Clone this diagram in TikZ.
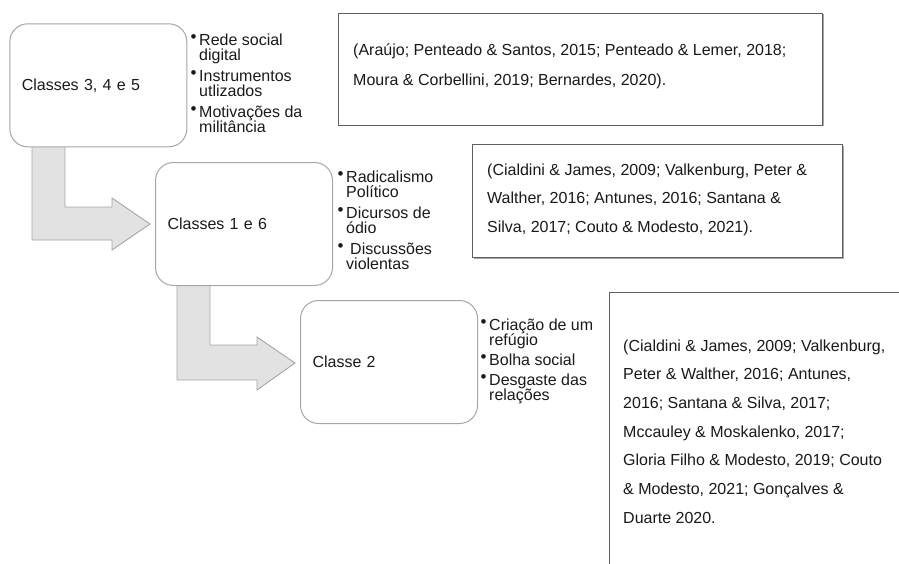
\documentclass[tikz,border=0pt]{standalone}
\usepackage{fontspec}
\setmainfont{Liberation Sans}
\usetikzlibrary{shadows}
\definecolor{boxgray}{HTML}{A6A6A6}
\definecolor{arrowfill}{HTML}{E2E2E2}
\definecolor{refline}{HTML}{5F5F5F}
\definecolor{txt}{HTML}{1A1A1A}
\newcommand{\bul}{\makebox[8.5pt][l]{\raisebox{2.8pt}{\fontsize{17}{17}\selectfont •}}}
\newcommand{\cont}{\hspace*{8.5pt}}
\newcommand{\itemgap}{\vskip6pt}
\begin{document}
\begin{tikzpicture}[x=1pt,y=-1pt,
  classbox/.style={draw=boxgray, line width=1pt, fill=white, rounded corners=18pt,
    anchor=north west, inner xsep=12pt, inner ysep=0pt, align=left,
    minimum width=177pt, minimum height=123pt, text width=153pt,
    font=\fontsize{16}{19}\selectfont, text=txt},
  refbox/.style={draw=refline, line width=1.1pt, fill=white, anchor=north west, inner sep=0pt,
    drop shadow={shadow xshift=1pt, shadow yshift=-1pt, fill=black!35, opacity=1}},
  reftext/.style={anchor=base west, inner sep=0pt, font=\fontsize{16}{28.5}\selectfont, text=txt},
  bullist/.style={anchor=base west, inner sep=0pt, font=\fontsize{16}{15}\selectfont, text=txt},
  bentarrow/.style={draw=boxgray, line width=0.9pt, fill=arrowfill, line join=miter}]
\useasboundingbox (0,0) rectangle (899,563);
\clip (0,0) rectangle (899,563);

% bent arrows (drawn first so the boxes cover the stems)
\draw[bentarrow] (32,140) -- (65,140) -- (65,207) -- (112,207) -- (112,198) -- (150,224)
  -- (112,250) -- (112,240) -- (32,240) -- cycle;
\draw[bentarrow] (177,280) -- (210,280) -- (210,345) -- (257,345) -- (257,337) -- (295,363)
  -- (257,390) -- (257,380) -- (177,380) -- cycle;

% class boxes
\node[classbox] (c1) at (9.3,23.3) {Classes 3, 4 e 5};
\node[classbox] (c2) at (155,162) {Classes 1 e 6};
\node[classbox] (c3) at (300,300) {Classe 2};

% bullet lists
\node[bullist] (l1) at (190.5,45) {\vtop{\lineskiplimit=-20pt
  \hbox{\bul Rede social}\hbox{\cont digital}\itemgap
  \hbox{\bul Instrumentos}\hbox{\cont utlizados}\itemgap
  \hbox{\bul Motivações da}\hbox{\cont militância}}};
\node[bullist] (l2) at (337.5,182) {\vtop{\lineskiplimit=-20pt
  \hbox{\bul Radicalismo}\hbox{\cont Político}\itemgap
  \hbox{\bul Dicursos de}\hbox{\cont ódio}\itemgap
  \hbox{\bul\hspace{4pt}Discussões}\hbox{\cont violentas}}};
\node[bullist] (l3) at (480.5,330) {\vtop{\lineskiplimit=-20pt
  \hbox{\bul Criação de um}\hbox{\cont refúgio}\vskip5pt
  \hbox{\bul Bolha social}\vskip5pt
  \hbox{\bul Desgaste das}\hbox{\cont relações}}};

% reference boxes
\node[refbox, minimum width=484pt, minimum height=112pt] (r1) at (338,12.7) {};
\node[refbox, minimum width=370pt, minimum height=113pt] (r2) at (472,144) {};
\node[refbox, minimum width=320pt, minimum height=300pt] (r3) at (609,291.7) {};

\node[reftext, font=\fontsize{16}{30}\selectfont] (t1) at (353,55) {\vtop{\lineskiplimit=-20pt
  \hbox{(Araújo; Penteado \& Santos, 2015; Penteado \& Lemer, 2018;}
  \hbox{Moura \& Corbellini, 2019; Bernardes, 2020).}}};
\node[reftext] (t2) at (487,175) {\vtop{\lineskiplimit=-20pt
  \hbox{(Cialdini \& James, 2009; Valkenburg, Peter \&}
  \hbox{Walther, 2016; Antunes, 2016; Santana \&}
  \hbox{Silva, 2017; Couto \& Modesto, 2021).}}};
\node[reftext, font=\fontsize{16}{28.7}\selectfont] (t3) at (623,351) {\vtop{\lineskiplimit=-20pt
  \hbox{(Cialdini \& James, 2009; Valkenburg,}
  \hbox{Peter \& Walther, 2016; Antunes,}
  \hbox{2016; Santana \& Silva, 2017;}
  \hbox{Mccauley \& Moskalenko, 2017;}
  \hbox{Gloria Filho \& Modesto, 2019; Couto}
  \hbox{\& Modesto, 2021; Gonçalves \&}
  \hbox{Duarte 2020.}}};
\end{tikzpicture}
\end{document}
